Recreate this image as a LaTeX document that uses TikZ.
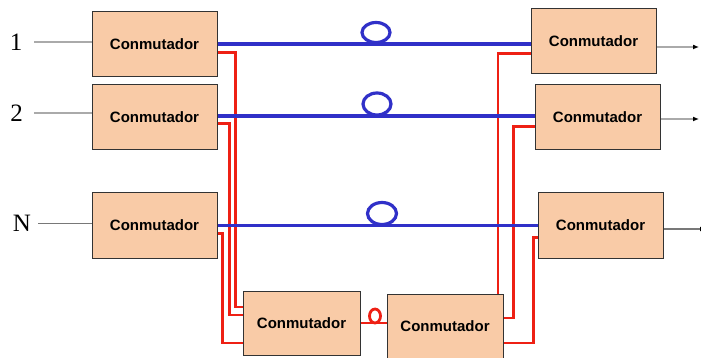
\documentclass[tikz,border=0pt]{standalone}
\usepackage{fontspec}
\setmainfont{Liberation Serif}
\setsansfont{Liberation Sans}
\usetikzlibrary{calc,arrows.meta}
\definecolor{boxfill}{RGB}{249,203,167}
\definecolor{fibre}{RGB}{48,48,200}
\definecolor{redl}{RGB}{238,32,20}
\definecolor{lgray}{RGB}{170,170,170}
\definecolor{dgray}{RGB}{120,120,120}
\tikzset{
  sw/.style={draw=black!80, fill=boxfill, line width=1pt, minimum width=125pt, minimum height=65pt, inner sep=0pt,
    font=\sffamily\bfseries\fontsize{15}{18}\selectfont},
  swb/.style={sw, minimum width=117pt, minimum height=64pt},
  bline/.style={draw=fibre, line width=3.2pt},
  rline/.style={draw=redl, line width=2.8pt},
  inl/.style={draw=lgray, line width=1.5pt},
  outl/.style={draw=lgray, line width=1.6pt, -{Latex[length=6pt,width=5pt,black]}},
  lbl/.style={inner sep=0pt, font=\fontsize{25}{28}\selectfont}
}
\begin{document}
\begin{tikzpicture}[x=1pt,y=-1pt]
\useasboundingbox (0,0) rectangle (701,358);
% switches
\node[sw] (L1) at (154.5,44.5) {Conmutador};
\node[sw] (L2) at (154.5,117) {Conmutador};
\node[sw] (LN) at (154.5,225.5) {Conmutador};
\node[sw] (R1) at (593.5,41.5) {Conmutador};
\node[sw] (R2) at (597.5,117.5) {Conmutador};
\node[sw] (RN) at (600.5,225.5) {Conmutador};
\node[swb] (BL) at (301.5,323) {Conmutador};
\node[swb, minimum width=116pt] (BR) at (445,326) {Conmutador};
% input labels
\node[lbl] (n1) at (16,42) {1};
\node[lbl] (n2) at (16.5,113) {2};
\node[lbl] (nN) at (22,223.5) {N};
\draw[inl] ([xshift=12pt]n1.east) -- (L1.west |- n1.east);
\draw[inl] ([xshift=11pt]n2.east) -- (L2.west |- n2.east);
\draw[inl, draw=dgray] ([xshift=7pt]nN.east) -- (LN.west |- nN.east);
% outputs
\coordinate (o1) at (699,47);
\coordinate (o2) at (699,119);
\coordinate (oN) at (706,229);
\draw[outl] (R1.east |- o1) -- (o1);
\draw[outl] (R2.east |- o2) -- (o2);
\draw[outl, draw=dgray] (RN.east |- oN) -- (oN);
% red protection paths
\draw[rline] ($(L1.east)+(0,8)$) -| ($(BL.west)+(-7,-16)$) -- ($(BL.west)+(0,-16)$);
\draw[rline] ($(L2.east)+(0,6.5)$) -| ($(BL.west)+(-13,-8)$) -- ($(BL.west)+(0,-8)$);
\draw[rline] ($(LN.east)+(0,8)$) -| ($(BL.west)+(-20,20)$) -- ($(BL.west)+(0,20)$);
\draw[rline] ($(R1.west)+(0,12)$) -| ($(BR.north)+(53,0)$);
\draw[rline] ($(R2.west)+(0,9)$) -| ($(BR.east)+(10,-8)$) -- ($(BR.east)+(0,-8)$);
\draw[rline] ($(RN.west)+(0,12)$) -| ($(BR.east)+(30,17)$) -- ($(BR.east)+(0,17)$);
\draw[rline] (BL.east) -- (BL.east -| BR.west);
\draw[rline] (375,316) ellipse [x radius=5.5, y radius=7];
% blue working fibres
\draw[bline] ($(L1.east)+(0,-0.5)$) -- (R1.west |- 0,44);
\draw[bline] ($(L2.east)+(0,-1)$) -- (R2.west |- 0,116);
\draw[bline] (LN.east) -- (RN.west |- LN.east);
\draw[bline] (376,32.5) ellipse [x radius=14, y radius=10];
\draw[bline] (377,104) ellipse [x radius=14, y radius=11];
\draw[bline] (382,213.5) ellipse [x radius=14.5, y radius=11];
% redraw boxes on top
\node[sw] at (L1) {Conmutador};
\node[sw] at (L2) {Conmutador};
\node[sw] at (LN) {Conmutador};
\node[sw] at (R1) {Conmutador};
\node[sw] at (R2) {Conmutador};
\node[sw] at (RN) {Conmutador};
\node[swb] at (BL) {Conmutador};
\node[swb, minimum width=116pt] at (BR) {Conmutador};
\end{tikzpicture}
\end{document}
